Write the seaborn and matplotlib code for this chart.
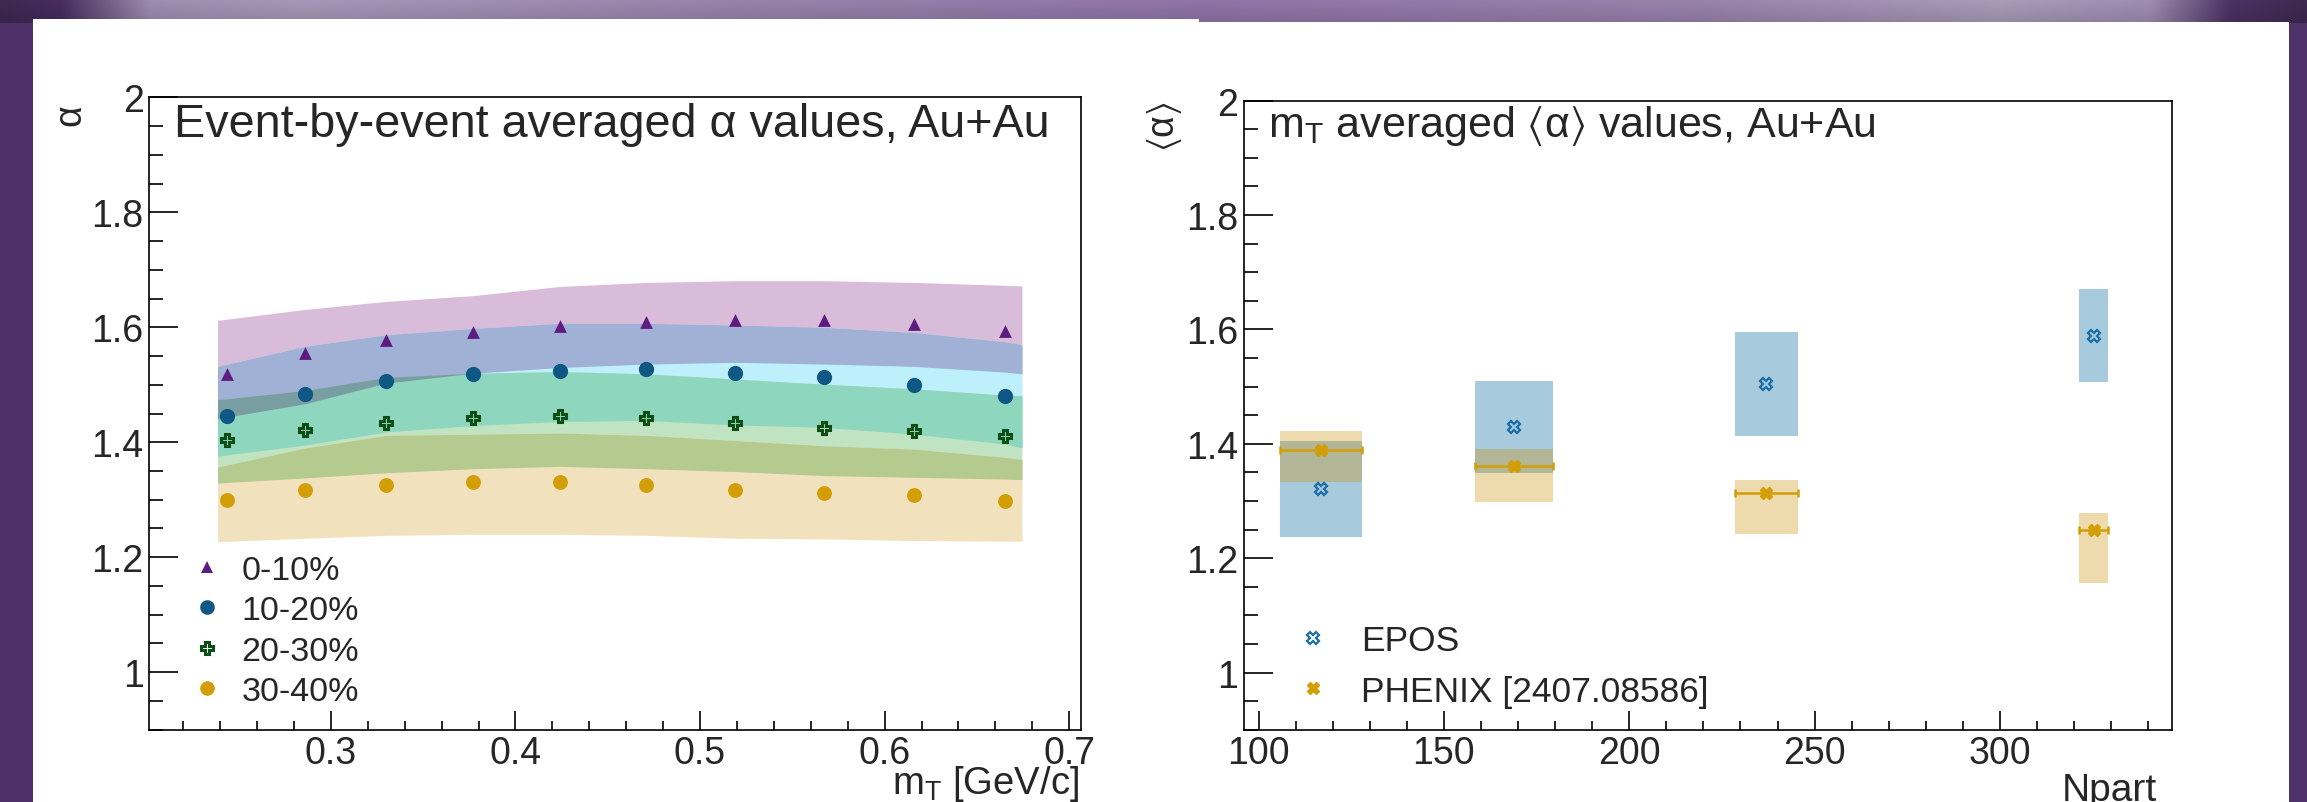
import numpy as np
import pandas as pd
import matplotlib
matplotlib.use('Agg')
import matplotlib.pyplot as plt
import seaborn as sns
from itertools import combinations
from matplotlib.lines import Line2D
from matplotlib.patches import Rectangle
from matplotlib.colors import to_rgb
from matplotlib.ticker import MultipleLocator

# ---- left panel: event-by-event alpha vs mT
mt = [0.244, 0.286, 0.330, 0.377, 0.424, 0.471, 0.519, 0.567, 0.616, 0.665]
alpha_0_10 = [1.519, 1.556, 1.577, 1.592, 1.603, 1.609, 1.612, 1.612, 1.606, 1.593]
alpha_10_20 = [1.446, 1.484, 1.507, 1.518, 1.524, 1.527, 1.521, 1.513, 1.499, 1.481]
alpha_20_30 = [1.404, 1.421, 1.433, 1.442, 1.445, 1.442, 1.434, 1.424, 1.419, 1.410]
alpha_30_40 = [1.300, 1.317, 1.326, 1.330, 1.330, 1.326, 1.317, 1.312, 1.309, 1.297]

# uncertainty bands
band_mt = [0.2386, 0.286, 0.330, 0.377, 0.424, 0.471, 0.519, 0.567, 0.616, 0.665, 0.6744]
band_0_10_hi = [1.612, 1.631, 1.645, 1.655, 1.671, 1.678, 1.681, 1.681, 1.678, 1.673, 1.672]
band_0_10_lo = [1.441, 1.467, 1.503, 1.520, 1.530, 1.536, 1.539, 1.536, 1.532, 1.522, 1.519]
band_10_20_hi = [1.532, 1.567, 1.587, 1.598, 1.607, 1.607, 1.604, 1.600, 1.591, 1.575, 1.570]
band_10_20_lo = [1.376, 1.395, 1.418, 1.429, 1.436, 1.438, 1.430, 1.426, 1.414, 1.397, 1.390]
band_20_30_hi = [1.474, 1.490, 1.513, 1.520, 1.523, 1.519, 1.510, 1.501, 1.493, 1.482, 1.481]
band_20_30_lo = [1.329, 1.338, 1.347, 1.354, 1.358, 1.354, 1.349, 1.342, 1.339, 1.336, 1.335]
band_30_40_hi = [1.357, 1.390, 1.412, 1.414, 1.416, 1.412, 1.403, 1.394, 1.388, 1.374, 1.370]
band_30_40_lo = [1.227, 1.233, 1.238, 1.240, 1.240, 1.238, 1.233, 1.232, 1.229, 1.228, 1.228]

centralities = ['0-10%', '10-20%', '20-30%', '30-40%']
left_xticks = [0.3, 0.4, 0.5, 0.6, 0.7]
left_xticklabels = ['0.3', '0.4', '0.5', '0.6', '0.7']
yticks = [1.0, 1.2, 1.4, 1.6, 1.8, 2.0]
yticklabels = ['1', '1.2', '1.4', '1.6', '1.8', '2']

# ---- right panel: mT averaged alpha vs Npart
npart = [116.8, 168.9, 237.0, 325.3]
npart_err = [11.0, 10.6, 8.6, 3.9]
epos_alpha = [1.320, 1.429, 1.504, 1.588]
epos_lo = [1.2375, 1.349, 1.414, 1.507]
epos_hi = [1.405, 1.510, 1.595, 1.671]
phenix_alpha = [1.389, 1.361, 1.314, 1.250]
phenix_lo = [1.333, 1.298, 1.243, 1.156]
phenix_hi = [1.422, 1.390, 1.336, 1.278]
right_xticks = [100, 150, 200, 250, 300]
right_xticklabels = ['100', '150', '200', '250', '300']

sns.set_style('ticks')
plt.rcParams['font.family'] = ['Liberation Sans', 'DejaVu Sans']
plt.rcParams['mathtext.fontset'] = 'custom'
plt.rcParams['mathtext.rm'] = 'Liberation Sans'
plt.rcParams['mathtext.it'] = 'Liberation Sans:italic'
plt.rcParams['mathtext.bf'] = 'Liberation Sans:bold'
plt.rcParams['mathtext.fallback'] = 'stixsans'

W, H = 2307, 803
fig = plt.figure(figsize=(W / 100, H / 100), dpi=100, facecolor='white')

# slide background
bg = fig.add_axes([0, 0, 1, 1], zorder=-5)
bg.set_axis_off()
bg.set_xlim(0, W)
bg.set_ylim(H, 0)
stops_x = [0, 60, 150, 300, 700, 1200, 1700, 2000, 2150, 2230, 2307]
stops_c = ['#3d2850', '#452c5c', '#9a8aab', '#a294b3', '#9482a8', '#8c72a4',
           '#9580a8', '#a598b4', '#9a8aad', '#4a3260', '#3d2850']
cols = np.array([to_rgb(c) for c in stops_c])
xs = np.arange(W)
row = np.stack([np.interp(xs, stops_x, cols[:, i]) for i in range(3)], -1)
shade = np.linspace(1.03, 0.9, 24)[:, None, None]
grad = np.clip(row[None, :, :] * shade, 0, 1)
bg.add_patch(Rectangle((0, 0), 33, H, color='#4f3068', lw=0))
bg.add_patch(Rectangle((2289, 0), 18, H, color='#50326a', lw=0))
bg.imshow(grad, extent=(0, W, 24, 0), aspect='auto', zorder=2)
bg.add_patch(Rectangle((33, 20), 1166, H, color='white', lw=0, zorder=3))
bg.add_patch(Rectangle((1199, 22.7), 1090, H, color='white', lw=0, zorder=3))

ax1 = fig.add_axes([149.2 / W, 1 - 730.7 / H, 932 / W, 632.4 / H])
ax2 = fig.add_axes([1243.7 / W, 1 - 730.7 / H, 928.3 / W, 629.2 / H])

# bands, overlaps darkened like a multiply blend
bands = [(band_0_10_lo, band_0_10_hi, '#d9bcd9'),
         (band_10_20_lo, band_10_20_hi, '#bdf0fb'),
         (band_20_30_lo, band_20_30_hi, '#c0e4c1'),
         (band_30_40_lo, band_30_40_hi, '#f1e2bd')]
bx = np.array(band_mt)
for k in range(1, 5):
    for combo in combinations(range(4), k):
        lo = np.max([np.array(bands[i][0]) for i in combo], axis=0)
        hi = np.min([np.array(bands[i][1]) for i in combo], axis=0)
        if not np.any(hi > lo):
            continue
        col = np.prod([to_rgb(bands[i][2]) for i in combo], axis=0)
        ax1.fill_between(bx, lo, hi, where=hi > lo, interpolate=True,
                         color=col, lw=0, zorder=1 + 0.1 * k)

c_0_10 = '#5e1c80'
c_10_20 = '#0f5784'
c_20_30 = '#0b4f14'
c_30_40 = '#d39e05'
sns.scatterplot(x=mt, y=alpha_0_10, marker='^', s=85, color=c_0_10,
                linewidth=0, ax=ax1, zorder=3)
sns.scatterplot(x=mt, y=alpha_10_20, marker='o', s=120, color=c_10_20,
                linewidth=0, ax=ax1, zorder=3)
ax1.plot(mt, alpha_20_30, ls='none', marker='P', ms=8.5, mfc='none',
         mec=c_20_30, mew=2.2, zorder=3)
sns.scatterplot(x=mt, y=alpha_30_40, marker='o', s=115, color=c_30_40,
                linewidth=0, ax=ax1, zorder=3)

h_left = [Line2D([], [], ls='none', marker='^', ms=9, color=c_0_10, mew=0),
          Line2D([], [], ls='none', marker='o', ms=10.5, color=c_10_20, mew=0),
          Line2D([], [], ls='none', marker='P', ms=8, mfc='none', mec=c_20_30, mew=2.2),
          Line2D([], [], ls='none', marker='o', ms=10.5, color=c_30_40, mew=0)]
ax1.legend(h_left, centralities, loc='upper left', bbox_to_anchor=(0.044, 0.276),
           frameon=False, fontsize=24.5, borderpad=0, borderaxespad=0,
           handlelength=1.0, handletextpad=0.5, labelspacing=0.27)

# right panel boxes and points
npa = np.array(npart)
era = np.array(npart_err)
ax2.bar(npa, np.array(epos_hi) - np.array(epos_lo), bottom=epos_lo, width=2 * era,
        color='#a8cadd', lw=0, zorder=1)
ax2.bar(npa, np.array(phenix_hi) - np.array(phenix_lo), bottom=phenix_lo, width=2 * era,
        color='#c88c00', alpha=0.32, lw=0, zorder=2)
c_epos = '#1a6ea5'
c_phenix = '#d39e05'
ax2.plot(npart, epos_alpha, ls='none', marker='X', ms=8, mfc='none', mec=c_epos,
         mew=1.6, zorder=3)
ax2.errorbar(npart, phenix_alpha, xerr=npart_err, fmt='X', ms=9, color=c_phenix,
             elinewidth=1.8, capsize=3, capthick=1.8, zorder=4)
h_right = [Line2D([], [], ls='none', marker='X', ms=8, mfc='none', mec=c_epos, mew=1.6),
           Line2D([], [], ls='none', marker='X', ms=9, color=c_phenix)]
ax2.legend(h_right, ['EPOS', 'PHENIX [2407.08586]'], loc='upper left',
           bbox_to_anchor=(0.056, 0.168), frameon=False, fontsize=25.5, borderpad=0,
           borderaxespad=0, handlelength=1.0, handletextpad=0.84, labelspacing=0.5)

# axes styling
for ax, xl, xt, xtl, xminor in [(ax1, (0.2016, 0.7065), left_xticks, left_xticklabels, 0.02),
                                (ax2, (96.0, 346.4), right_xticks, right_xticklabels, 10)]:
    ax.set_facecolor('white')
    ax.set_xlim(*xl)
    ax.set_ylim(0.9, 2.0)
    ax.set_xticks(xt)
    ax.set_xticklabels(xtl)
    ax.set_yticks(yticks)
    ax.set_yticklabels(yticklabels)
    ax.xaxis.set_minor_locator(MultipleLocator(xminor))
    ax.yaxis.set_minor_locator(MultipleLocator(0.05))
    ax.tick_params(which='both', direction='in', top=False, right=False,
                   color='black', width=1.2)
    ax.tick_params(axis='y', which='major', length=21, labelsize=27, pad=4)
    ax.tick_params(axis='y', which='minor', length=10)
    ax.tick_params(axis='x', which='major', length=13.5, labelsize=27, pad=4)
    ax.tick_params(axis='x', which='minor', length=6.5)
    for sp in ax.spines.values():
        sp.set_color('black')
        sp.set_linewidth(1.2)
    ax.set_xlabel('')
    ax.set_ylabel('')

ax1.text(0.027, 0.9388, 'Event-by-event averaged α values, Au+Au',
         transform=ax1.transAxes, fontsize=33.7, ha='left', va='baseline')
ax2.text(0.0265, 0.943, r'm$_\mathregular{T}$ averaged $\langle\mathrm{\alpha}\rangle$ values, Au+Au',
         transform=ax2.transAxes, fontsize=31, ha='left', va='baseline')
ax1.text(-0.0845, 0.99, 'α', transform=ax1.transAxes, fontsize=27,
         rotation=90, ha='center', va='top')
ax2.text(-0.0853, 1.0, r'$\langle\mathrm{\alpha}\rangle$', transform=ax2.transAxes,
         fontsize=27, rotation=90, ha='center', va='top')
ax1.text(0.9977, -0.1001, r'm$_\mathregular{T}$ [GeV/c]', transform=ax1.transAxes,
         fontsize=27.5, ha='right', va='baseline')
ax2.text(0.984, -0.1117, 'Npart', transform=ax2.transAxes,
         fontsize=28, ha='right', va='baseline')

fig.savefig('out.png', dpi=100, facecolor='white')
